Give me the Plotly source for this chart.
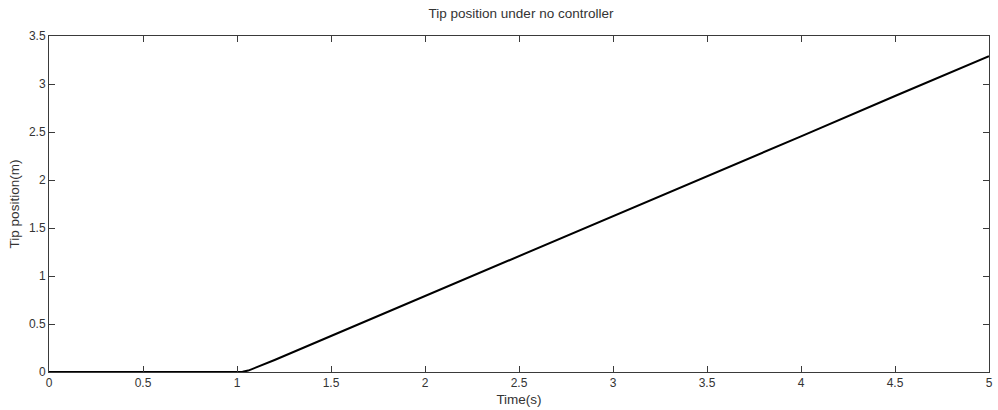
import plotly.graph_objects as go

# Tip position response with no controller applied
time_s = [0.0, 0.5, 1.0, 1.03, 1.06, 1.1, 1.15, 1.2, 1.5, 2.0, 2.5, 3.0, 3.5, 4.0, 4.5, 5.0]
tip_pos_m = [0.0, 0.0, 0.0, 0.002, 0.015, 0.045, 0.083, 0.125, 0.375, 0.79, 1.21, 1.625, 2.04, 2.455, 2.875, 3.29]

x_ticks = [0, 0.5, 1, 1.5, 2, 2.5, 3, 3.5, 4, 4.5, 5]
x_labels = ["0", "0.5", "1", "1.5", "2", "2.5", "3", "3.5", "4", "4.5", "5"]
y_ticks = [0, 0.5, 1, 1.5, 2, 2.5, 3, 3.5]
y_labels = ["0", "0.5", "1", "1.5", "2", "2.5", "3", "3.5"]

axis_color = "#3a3a3a"
text_color = "#333333"
font_family = "Liberation Sans, Arial, sans-serif"

fig = go.Figure()
fig.add_trace(go.Scatter(
    x=time_s, y=tip_pos_m, mode="lines",
    line=dict(color="black", width=2),
    showlegend=False,
))

common_axis = dict(
    showgrid=False, zeroline=False,
    showline=True, linecolor=axis_color, linewidth=1,
    mirror="allticks", ticks="inside", ticklen=6, tickcolor=axis_color,
    tickfont=dict(family=font_family, size=12, color=text_color),
)

fig.update_layout(
    width=998, height=410,
    margin=dict(l=49, r=5, t=36, b=38),
    paper_bgcolor="white", plot_bgcolor="white",
    font=dict(family=font_family, color=text_color),
    title=dict(
        text="Tip position under no controller",
        x=(49 + 993) / 2 / 998, xanchor="center",
        y=1 - 13 / 410, yanchor="middle",
        font=dict(family=font_family, size=13.5, color=text_color),
    ),
    xaxis=dict(
        range=[0, 5], tickvals=x_ticks, ticktext=x_labels,
        title=dict(text="Time(s)", standoff=5,
                   font=dict(family=font_family, size=13.5, color=text_color)),
        **common_axis,
    ),
    yaxis=dict(
        range=[0, 3.5], tickvals=y_ticks, ticktext=y_labels,
        title=dict(text="Tip position(m)", standoff=6,
                   font=dict(family=font_family, size=13.5, color=text_color)),
        **common_axis,
    ),
)

fig.write_html("out.html")
